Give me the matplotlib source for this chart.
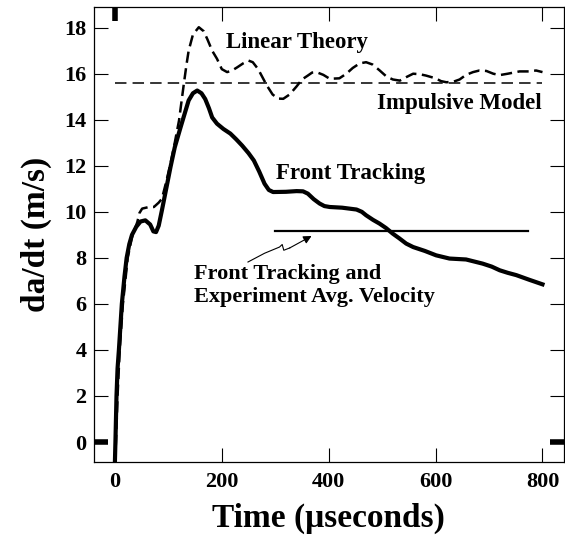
import matplotlib
matplotlib.use("Agg")
import matplotlib.pyplot as plt

plt.rcParams['font.family'] = ['Liberation Serif', 'DejaVu Serif']
plt.rcParams['font.weight'] = 'bold'

# Front tracking simulation (solid curve)
ft_t = [0, 1, 3, 5, 7.5, 13, 18, 22, 27, 32, 40, 48, 57, 66, 72, 77, 82, 88, 96, 104,
        112, 123, 131, 138, 146, 154, 162, 169, 176, 182, 191, 203, 216, 227, 238, 250, 260,
        270, 280, 288, 296, 320, 340, 352, 361, 372, 383, 392, 402, 425, 452, 462, 470, 483,
        495, 507, 520, 532, 545, 558, 580, 601, 626, 657, 688, 705, 720, 735, 751, 775, 800]
ft_v = [-0.9, 0, 2, 3.2, 4, 6, 7.2, 8, 8.6, 9.0, 9.35, 9.58, 9.63, 9.45, 9.15, 9.12, 9.4, 10.07, 11.0, 11.94,
        12.8, 13.68, 14.3, 14.84, 15.15, 15.27, 15.15, 14.9, 14.5, 14.1, 13.83, 13.6, 13.4, 13.15, 12.88, 12.55, 12.23,
        11.75, 11.22, 10.95, 10.86, 10.87, 10.9, 10.89, 10.79, 10.55, 10.36, 10.25, 10.21, 10.18, 10.1, 10.0, 9.85, 9.65,
        9.49, 9.3, 9.05, 8.85, 8.62, 8.47, 8.3, 8.11, 7.97, 7.93, 7.75, 7.62, 7.46, 7.35, 7.25, 7.05, 6.85]

# Linear theory (dashed curve)
lt_t = [0, 2, 5, 9, 15, 24, 32, 42, 46, 51, 62, 73, 82, 88, 96, 104, 112, 120, 129, 134,
        138, 146, 157, 166, 173, 182, 191, 200, 210, 220, 229, 240, 250, 258, 268, 276, 284, 295,
        305, 315, 327, 340, 350, 361, 369, 377, 390, 402, 420, 433, 445, 458, 470, 482, 495, 508,
        520, 533, 545, 558, 570, 582, 600, 610, 620, 633, 645, 657, 670, 682, 695, 708, 720, 735,
        757, 775, 788, 800]
lt_v = [-0.9, 0, 2, 4, 6, 8, 8.9, 9.56, 9.95, 10.14, 10.2, 10.21, 10.4, 10.57, 11.3, 12.09, 13.0, 13.97, 15.56, 16.4,
        17.0, 17.7, 18.02, 17.85, 17.5, 17.0, 16.65, 16.2, 16.07, 16.15, 16.28, 16.45, 16.57, 16.5, 16.2, 15.85, 15.5, 15.1,
        14.92, 14.91, 15.1, 15.45, 15.75, 15.92, 16.05, 16.07, 15.95, 15.78, 15.8, 16.0, 16.25, 16.45, 16.5, 16.4, 16.15, 15.88,
        15.75, 15.7, 15.85, 16.0, 15.98, 15.92, 15.8, 15.68, 15.63, 15.65, 15.75, 15.95, 16.07, 16.14, 16.12, 16.0, 15.94, 16.0,
        16.1, 16.1, 16.14, 16.07]

# Impulsive model and average velocity
imp_t = [0, 800]
imp_v = [15.6, 15.6]
avg_t = [300, 772]
avg_v = [9.15, 9.15]

# squiggly pointer to the average velocity line
arr_t = [249, 280, 308, 313, 316, 327, 368]
arr_v = [7.82, 8.2, 8.47, 8.58, 8.33, 8.43, 8.95]

fig = plt.figure(figsize=(5.65, 5.36), dpi=100)
ax = fig.add_axes([0.1655, 0.138, 0.8325, 0.849])

ax.plot(lt_t, lt_v, color='black', lw=1.8, dashes=(4.5, 2.2))
ax.plot(imp_t, imp_v, color='black', lw=1.1, dashes=(7.5, 4))
ax.plot(ft_t, ft_v, color='black', lw=3.0, solid_joinstyle='round')
ax.plot(avg_t, avg_v, color='black', lw=1.6)

ax.plot(arr_t[:-1], arr_v[:-1], color='black', lw=0.8)
ax.annotate('', xy=(arr_t[-1], arr_v[-1]), xytext=(arr_t[-2], arr_v[-2]),
            arrowprops=dict(arrowstyle='-|>', color='black', lw=0.8, mutation_scale=12,
                            shrinkA=0, shrinkB=0))

ax.text(207, 17.35, 'Linear Theory', fontsize=16.5, fontweight='bold', va='center')
ax.text(798, 14.72, 'Impulsive Model', fontsize=16.5, fontweight='bold', va='center', ha='right')
ax.text(301, 11.68, 'Front Tracking', fontsize=16.5, fontweight='bold', va='center')
ax.text(148, 6.8, 'Front Tracking and\nExperiment Avg. Velocity', fontsize=16, fontweight='bold',
        va='center', linespacing=1.15)

ax.set_xlim(-40, 840)
ax.set_ylim(-0.87, 18.9)
ax.set_xticks([0, 200, 400, 600, 800])
ax.set_yticks([0, 2, 4, 6, 8, 10, 12, 14, 16, 18])
ax.tick_params(direction='in', length=10, width=0.8, top=True, right=True,
               labelsize=16, pad=7)
ax.tick_params(axis='y', pad=5)
for lab in ax.get_xticklabels() + ax.get_yticklabels():
    lab.set_fontweight('bold')
for s in ax.spines.values():
    s.set_linewidth(0.9)

ax.set_xlabel('Time (\u03bcseconds)', fontsize=24, fontweight='bold', labelpad=8)
ax.set_ylabel('da/dt (m/s)', fontsize=24, fontweight='bold', labelpad=9)

# heavier marks at zero
yt0 = ax.yaxis.get_major_ticks()[0]
yt0.tick1line.set_markeredgewidth(4)
yt0.tick2line.set_markeredgewidth(4)
xt0 = ax.xaxis.get_major_ticks()[0]
xt0.tick2line.set_markeredgewidth(4)

fig.savefig('out.png', dpi=100)
